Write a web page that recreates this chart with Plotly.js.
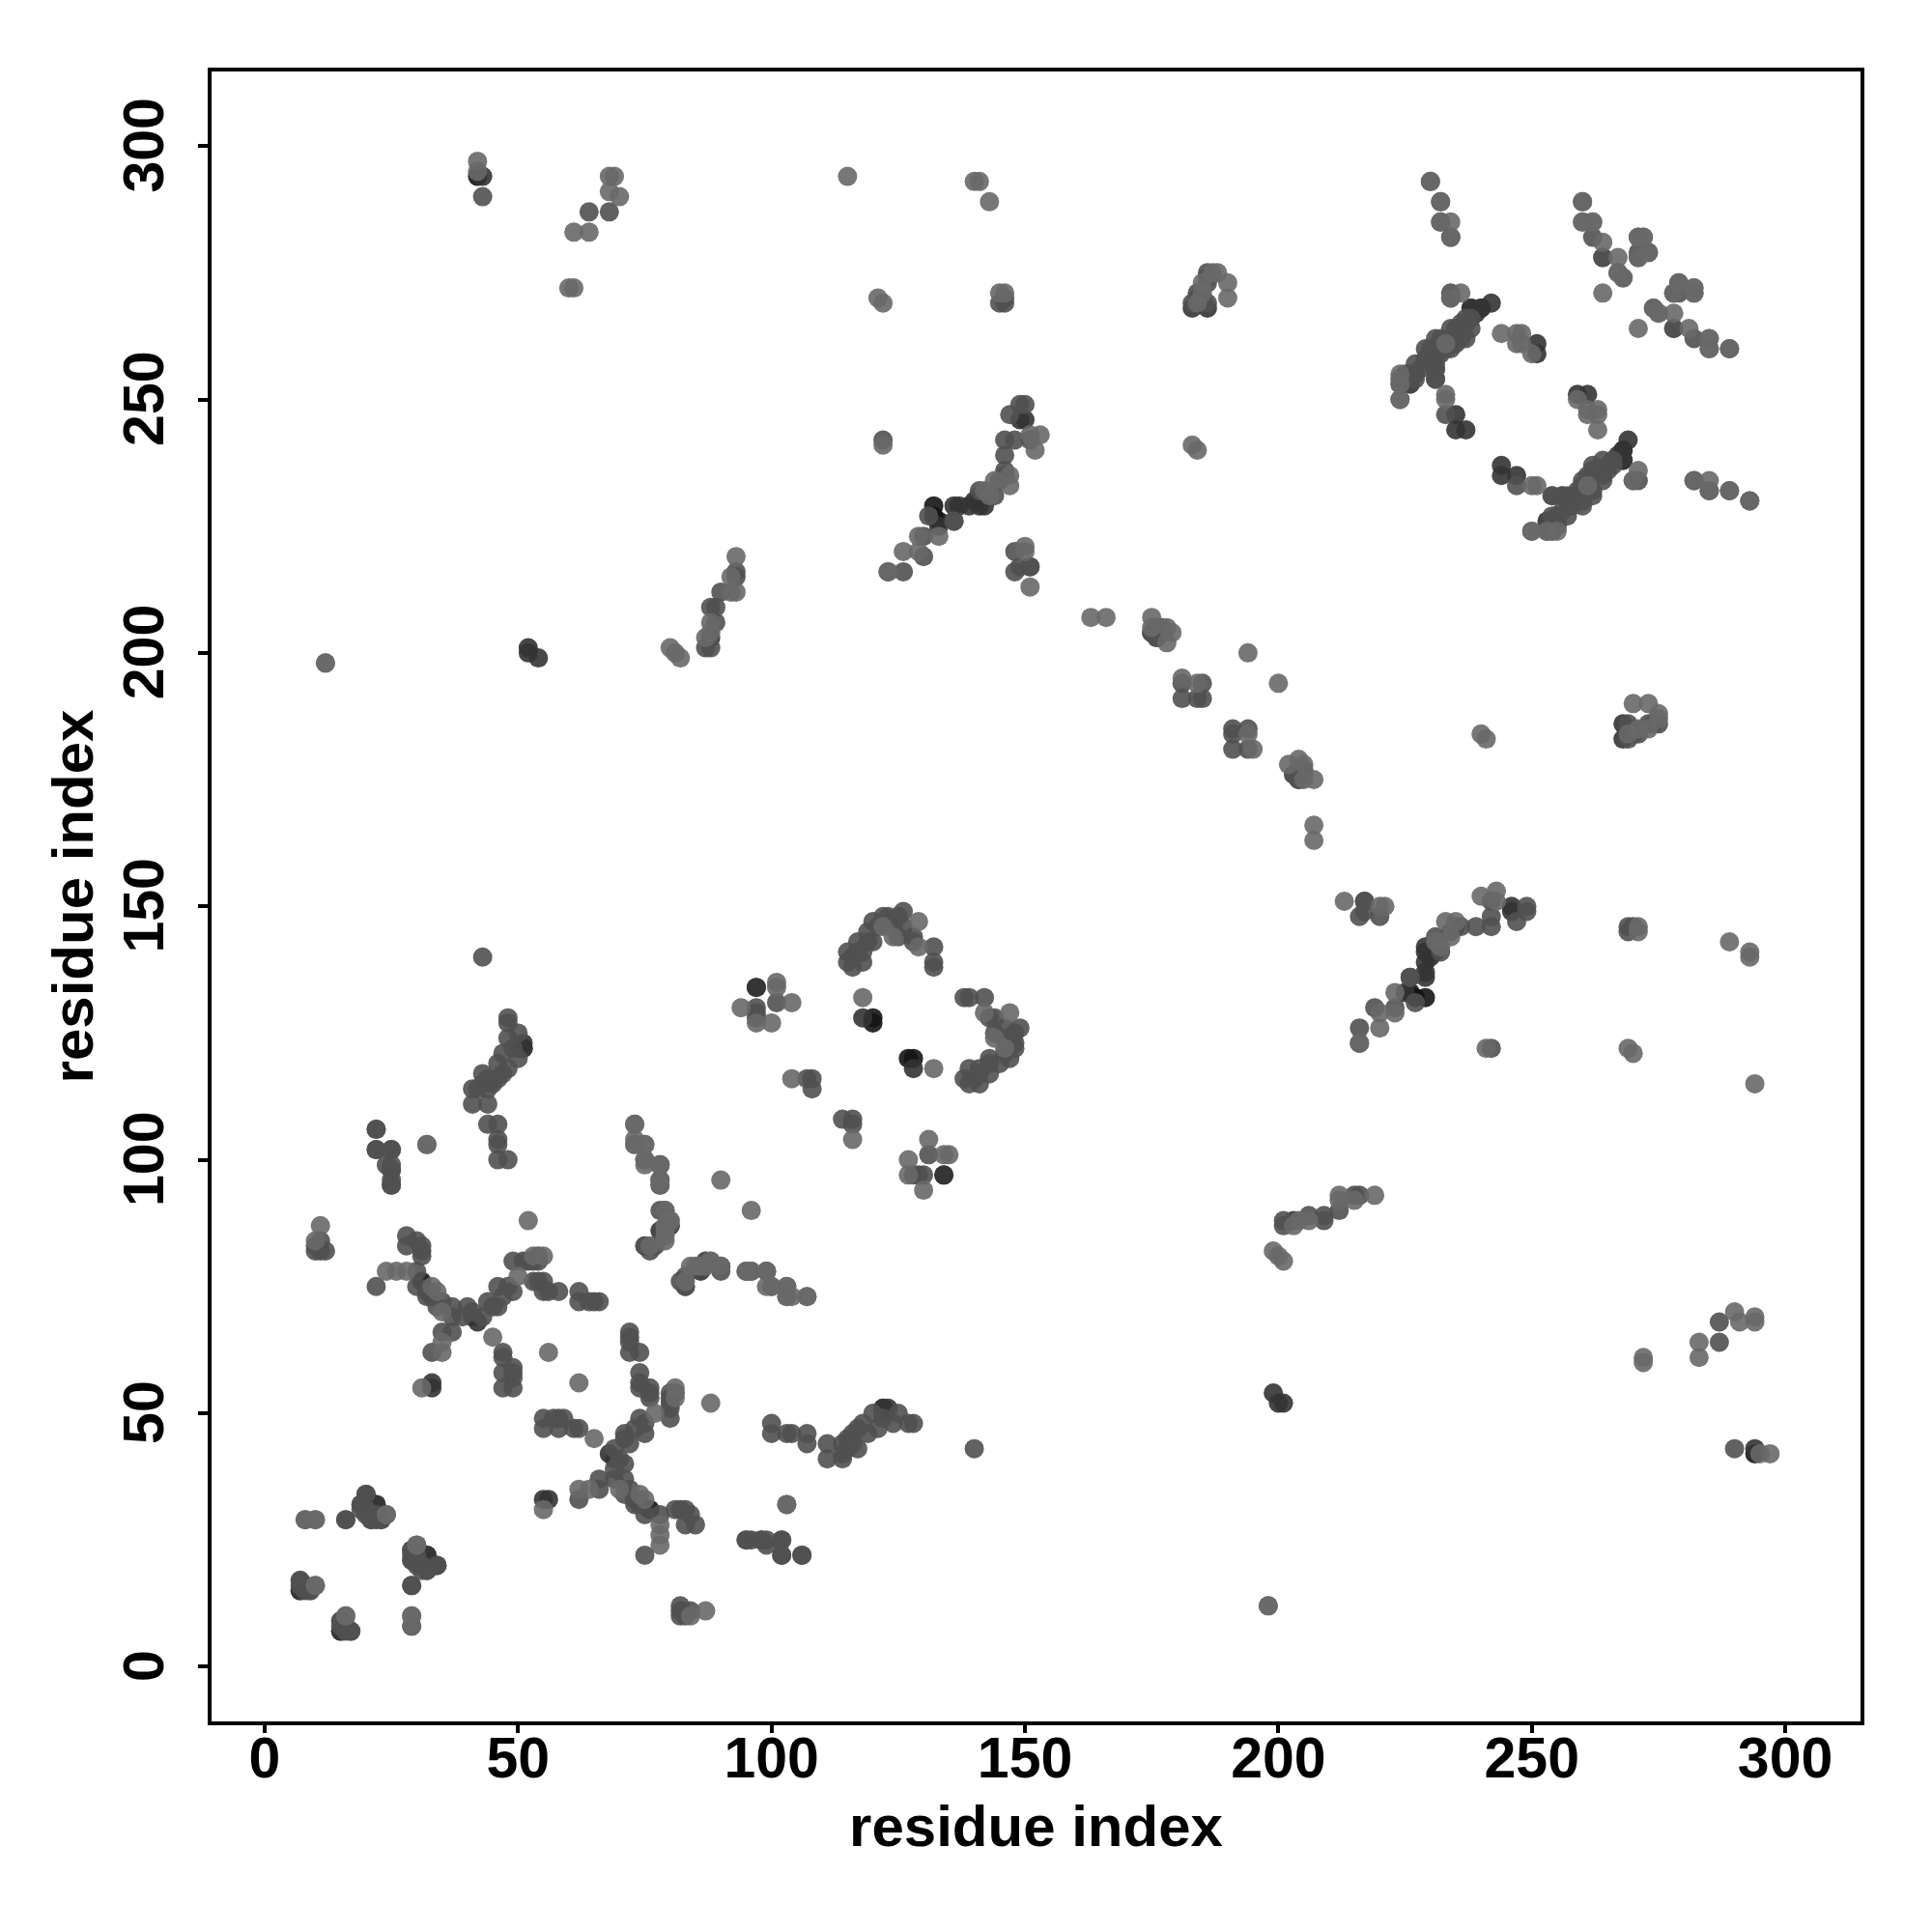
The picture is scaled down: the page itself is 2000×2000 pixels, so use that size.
<!DOCTYPE html>
<html><head><meta charset="utf-8">
<script src="https://cdn.plot.ly/plotly-3.0.1.min.js"></script>
<style>html,body{margin:0;padding:0;background:#fff}</style></head>
<body><div id="chart" style="width:2000px;height:2000px"></div>
<script>
// Residue contact pairs [i, j] with i < j; the map is symmetric.
const contactsBlack = [[120,128],[120,127],[132,227],[133,226],[31,76],[42,294],[132,229]];
const contactsDark = [[97,134],[51,123],[50,122],[51,122],[133,225],[136,229],[137,229],[141,229],[142,229],[139,229],
 [237,244],[235,244],[235,247],[251,259],[251,261],[240,268],[242,269],[239,267],[238,268],[54,199],[52,201],[52,200],
 [150,246],[175,204],[177,204],[22,32],[32,22],[43,294],[33,55],[33,56],[122,51],[78,86],[79,86],[134,97],[41,69],[42,68],
 [74,32],[73,33],[118,128],[20,34],[140,230],[141,231],[268,240],[268,238],[266,238],[253,226],[255,227],[7,15],[15,7],[16,8],[183,268],[186,268],[88,203],[149,246]];
const contactsMid = [[140,43],[22,75],[30,75],[32,73],[34,71],[37,69],[37,71],[35,72],[30,78],[31,81],[31,82],[31,83],[28,83],[28,85],[30,84],
 [40,71],[39,69],[41,70],[43,69],[44,72],[45,71],[46,71],[46,75],[47,73],[48,75],[49,74],[49,80],[51,80],[53,80],[54,81],[52,80],[54,80],
 [37,66],[35,66],[33,62],[47,62],[47,61],[47,58],[49,58],[47,55],[49,55],[49,57],[49,59],[54,76],[55,76],[55,74],[58,74],[62,74],[62,72],[65,72],[66,72],[64,72],[56,74],[53,76],
 [7,17],[7,16],[8,15],[9,15],[15,9],[17,7],[29,16],[29,8],[29,23],[29,21],[29,22],[30,21],[30,20],[32,19],[34,20],
 [16,29],[19,32],[20,31],[19,31],[21,29],[23,29],[22,30],[10,82],[11,82],[12,82],[11,84],[10,83],
 [44,107],[46,107],[46,104],[46,103],[46,100],[48,100],[41,111],[44,111],[41,114],[44,114],[45,115],[46,116],[47,117],[48,118],[50,120],[49,122],[50,125],[48,128],[48,127],[48,124],[46,119],[43,117],[47,121],[43,115],[42,114],[44,116],
 [22,106],[22,102],[25,102],[25,98],[25,95],[24,99],
 [78,96],[78,95],[79,90],[78,90],[77,83],[75,83],[76,82],[83,75],[80,87],[87,80],[78,99],
 [97,130],[101,131],[97,129],[97,128],[115,141],[117,143],[119,145],[120,147],[123,148],[126,149],[125,144],[128,143],[132,142],[132,139],[132,138],[116,138],[118,139],[118,141],[120,143],[121,146],[124,146],[126,146],[116,140],[115,139],[117,141],[119,143],[122,148],[125,148],[128,144],
 [107,116],[108,116],[108,114],[25,96],[95,25],[98,25],[99,25],[102,25],[102,22],[106,22],
 [126,216],[130,219],[136,226],[146,239],[146,242],[148,242],[147,247],[149,249],[150,249],[151,242],[131,227],[145,234],[148,220],[148,216],[151,217],[149,217],[176,205],[146,236],[146,235],[144,231],[141,232],[136,226],[130,223],[123,216],[151,217],
 [224,254],[225,255],[226,255],[227,254],[227,257],[229,258],[229,260],[230,260],[231,254],[231,256],[231,257],[232,262],[233,260],[235,261],[235,264],[236,262],[237,265],[237,266],[238,266],
 [233,247],[234,271],[253,224],[254,231],[256,231],[256,228],[257,230],[258,231],[259,232],[260,234],[262,231],[262,237],[264,234],[265,236],[264,238],[270,234],
 [186,269],[183,269],[186,273],[184,271],[185,270],[186,274],[184,270],[186,275],[264,278],[271,279],[274,268],[278,264],[278,271],[279,273],[282,262],
 [289,260],[282,234],[285,232],[289,232],[293,230],[68,287],[64,287],[181,191],[184,191],[185,191],[181,194],[185,194],[43,290],[146,269],[145,269],[122,242],
 [88,201],[87,201],[89,206],[89,209],[88,209],[90,212],[93,215],[93,216],[204,176],[203,176],[176,203],[177,205],[176,204],[175,204],[146,270]];
const contactsLight = [[12,198],[52,88],[56,62],[45,65],[8,29],[10,29],[24,78],[26,78],[28,78],[11,87],[10,84],[29,10],[30,24],[24,30],[10,16],[16,10],[33,75],[34,74],[35,70],[35,64],[35,62],[31,55],[50,77],
 [55,81],[53,81],[73,107],[73,103],[75,103],[75,100],[78,99],[80,88],[79,85],[76,83],[79,87],[90,96],[84,79],[86,79],[88,80],[90,79],[95,78],[96,78],[99,78],[100,75],[103,75],[103,73],[104,73],[107,73],[99,75],
 [101,135],[101,134],[94,130],[104,131],[100,127],[97,127],[118,132],[104,116],[129,147],[129,142],[124,144],[32,103],[103,32],
 [122,241],[126,220],[129,223],[129,220],[133,223],[147,235],[147,233],[144,234],[142,232],[143,231],[153,243],[152,240],[151,243],[150,221],[150,220],[151,213],[123,216],
 [163,207],[166,207],[175,207],[178,205],[179,204],[178,202],[183,241],[184,240],[194,200],[224,250],[236,271],[233,251],[233,250],[244,263],[247,263],[247,261],[250,259],[234,270],[250,224],[253,224],[255,224],[233,261],[248,261],[248,263],
 [260,285],[264,281],[267,278],[267,275],[268,274],[264,271],[271,278],[275,267],[271,282],[272,282],[273,279],[282,271],[282,272],[285,260],[285,262],[230,293],[232,289],[234,285],[232,285],[234,282],[260,289],[262,285],
 [141,293],[140,293],[143,289],[115,294],[60,272],[61,272],[42,297],[42,295],[61,283],[64,283],[69,294],[68,294],[68,291],[70,290],[122,269],[121,270],[146,271],[145,271],
 [185,273],[187,275],[188,275],[190,273],[190,270],[185,271],[184,269],[80,201],[82,199],[81,200],[88,204],[88,206],[92,212],[92,215],[93,219],[87,203],[181,195],[184,194],[198,12],[175,205],[122,146],[93,212]];
const tickValues = [0,50,100,150,200,250,300];
const xAxisTitle = "residue index";
const yAxisTitle = "residue index";

function trace(pairs, color){
  const xs = [], ys = [];
  for (const [a,b] of pairs){
    const i = Math.min(a,b), j = Math.max(a,b);
    xs.push(i, j); ys.push(j, i);
  }
  return {type:'scatter', mode:'markers', x:xs, y:ys, hoverinfo:'skip',
    marker:{size:20, color:color, opacity:0.9, line:{width:0}}};
}
const fontFamily = '"Liberation Sans", Arial, sans-serif';
const titleFont = {family:fontFamily,size:60,color:'#000',weight:'bold'};
const axis = {tickvals:tickValues, ticktext:tickValues.map(String), ticks:'outside', tickwidth:4, tickcolor:'#000',
  showgrid:false, zeroline:false, showline:true, mirror:true, linecolor:'#000', linewidth:4,
  tickfont:{family:fontFamily, size:59, color:'#000', weight:'bold'}, automargin:false};
Plotly.newPlot('chart', [
  trace(contactsBlack,'#141414'), trace(contactsDark,'#333333'), trace(contactsMid,'#505050'), trace(contactsLight,'#686868')
], {
  width:2000, height:2000, showlegend:false, paper_bgcolor:'#fff', plot_bgcolor:'#fff',
  margin:{l:219,r:74,t:74,b:218,pad:0},
  xaxis:Object.assign({}, axis, {range:[-10.48,314.85], ticklen:8, ticklabelstandoff:-25, title:{text:xAxisTitle, standoff:18, font:titleFont}}),
  yaxis:Object.assign({}, axis, {range:[-10.8,314.7], ticklen:10, ticklabelstandoff:12, ticklabelshift:8, tickangle:-90, title:{text:yAxisTitle, standoff:1, font:titleFont}})
}, {displayModeBar:false, staticPlot:true});
</script></body></html>
